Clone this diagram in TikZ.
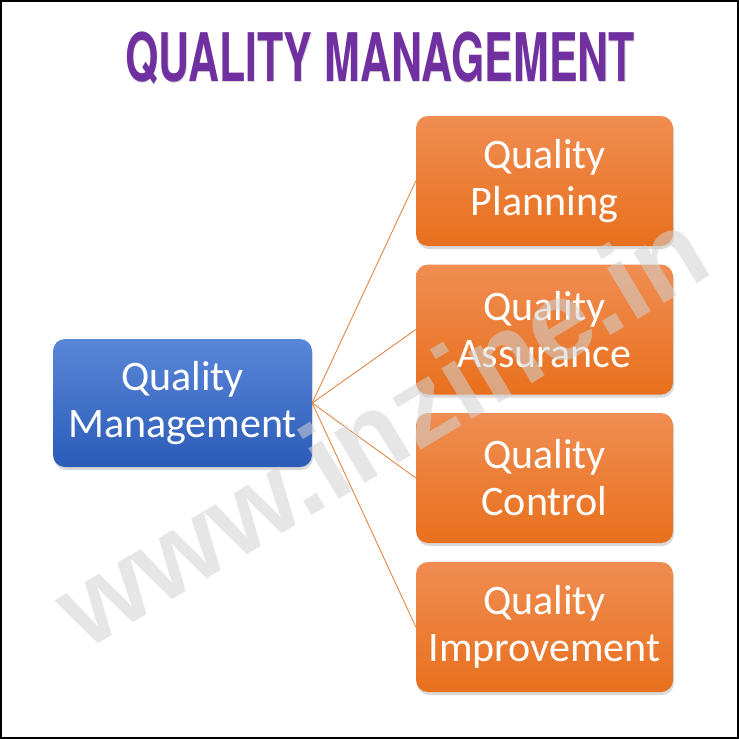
\documentclass[tikz,border=0pt]{standalone}
\usepackage{fontspec}
\setmainfont{Carlito}
\newfontfamily\titlefont{TeX Gyre Heros}
\newfontfamily\markfont{Liberation Sans}
\usetikzlibrary{shadows}
\definecolor{qpurple}{HTML}{7030A0}
\definecolor{qblueT}{HTML}{5887D8}
\definecolor{qblueB}{HTML}{2C5BB8}
\definecolor{qorangeT}{HTML}{F08D52}
\definecolor{qorangeB}{HTML}{E8701D}
\definecolor{qline}{HTML}{E07B36}
\tikzstyle{box}=[rounded corners=12pt, text=white, align=center, font=\fontsize{42}{47}\selectfont, drop shadow={opacity=0.3, shadow xshift=1pt, shadow yshift=-3pt}]
\tikzstyle{qm}=[box, minimum width=259pt, minimum height=128pt, top color=qblueT, bottom color=qblueB]
\tikzstyle{qs}=[box, minimum width=257pt, minimum height=130pt, top color=qorangeT, bottom color=qorangeB]
\tikzstyle{title}=[anchor=base, inner sep=0pt, text=qpurple, font=\titlefont\bfseries\fontsize{67}{67}\selectfont]
\tikzstyle{edge}=[draw=qline, line width=0.8pt]
\tikzstyle{wmark}=[text=gray!35, opacity=0.55, rotate=31, font=\markfont\bfseries\fontsize{112}{112}\selectfont]

\begin{document}
\begin{tikzpicture}[x=1pt, y=-1pt]
	\useasboundingbox (0,0) rectangle (739,739);
	\draw[line width=2.5pt] (1,1) rectangle (738,738);
	%
	\draw (380.5,82.5) node[title, text=black, opacity=0.15] (headshade) {\scalebox{0.64}[1]{QUALITY MANAGEMENT}};
	\draw (380,81) node[title] (head) {\scalebox{0.64}[1]{QUALITY MANAGEMENT}};
	%
	\draw (182.5,403) node[qm] (qm) {Quality\\Management};
	\draw (544.5,181) node[qs] (s1) {Quality\\Planning};
	\draw (544.5,329.5) node[qs] (s2) {Quality\\Assurance};
	\draw (544.5,478) node[qs] (s3) {Quality\\Control};
	\draw (544.5,627) node[qs] (s4) {Quality\\Improvement};
	%
	\draw[edge] (qm.east) -- (s1.west);
	\draw[edge] (qm.east) -- (s2.west);
	\draw[edge] (qm.east) -- (s3.west);
	\draw[edge] (qm.east) -- (s4.west);
	%
	\draw (380,428) node[wmark] (site) {www.inzine.in};
\end{tikzpicture}
\end{document}
